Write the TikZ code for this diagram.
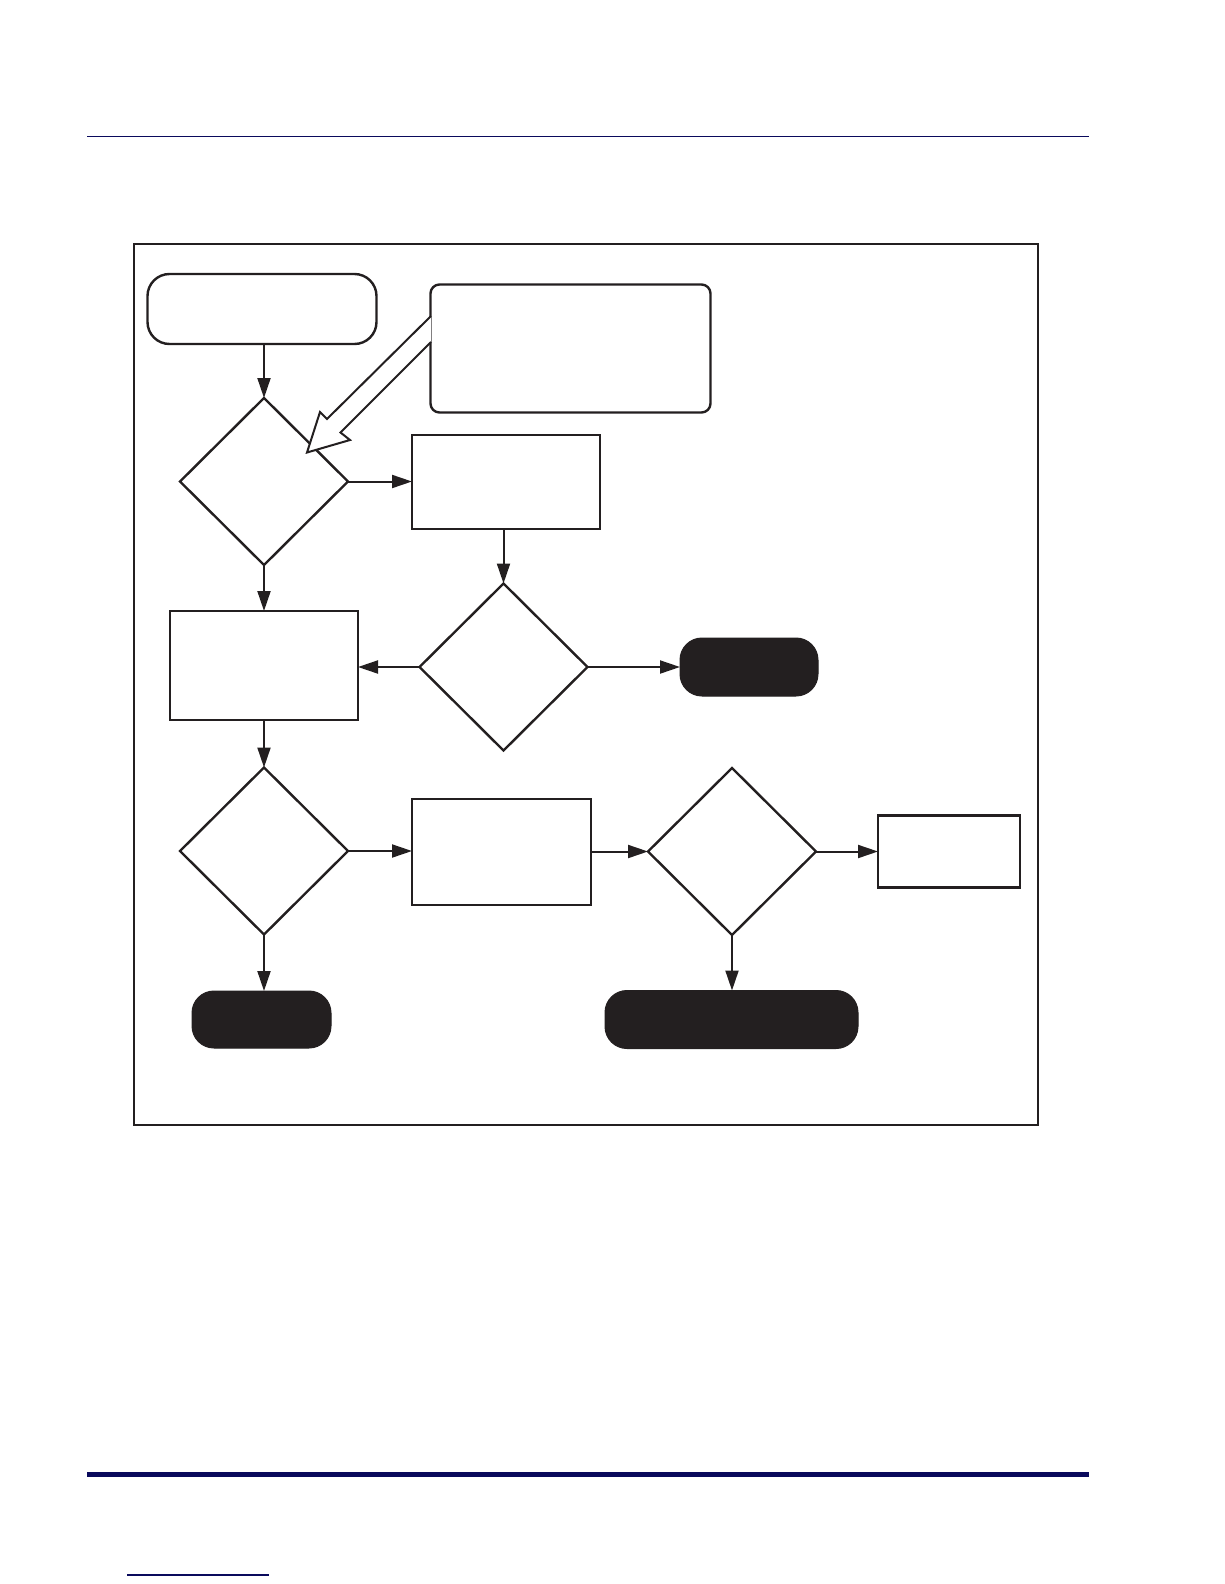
\documentclass[tikz,border=0pt]{standalone}
\usetikzlibrary{shapes.geometric,arrows.meta}
\definecolor{navy}{RGB}{10,10,92}
\definecolor{ink}{RGB}{35,31,32}
\tikzset{
  every node/.style={inner sep=0pt,outer sep=0pt},
  ln/.style={draw=ink,line width=2.4pt},
  procbox/.style={ln,rectangle,fill=white},
  decision/.style={ln,diamond,fill=white,minimum width=168pt,minimum height=167pt},
  startbox/.style={ln,rectangle,rounded corners=22pt,fill=white},
  termbox/.style={draw=ink,fill=ink,line width=1pt,rectangle,rounded corners=22pt},
  flow/.style={draw=ink,line width=2pt,-{Triangle[length=20pt,width=13pt]}},
}
\begin{document}
\begin{tikzpicture}[x=1pt,y=-1pt]
\useasboundingbox (0,0) rectangle (1224,1584);
% page rules
\draw[navy,line width=1.5pt] (87,136.5) -- (1089,136.5);
\draw[navy,line width=5pt] (87,1474.5) -- (1089,1474.5);
\draw[navy,line width=1.5pt] (127,1575) -- (269,1575);
% frame
\node[ln,rectangle,minimum width=904pt,minimum height=881pt] (frame) at (586,684.5) {};
% nodes
\node[startbox,minimum width=229pt,minimum height=70pt] (start) at (262,309) {};
\node[ln,rectangle,rounded corners=9pt,minimum width=280pt,minimum height=128pt] (note) at (570.5,348.5) {};
\node[decision] (d1) at (264,481.5) {};
\node[procbox,minimum width=188pt,minimum height=94pt] (pa) at (506,482) {};
\node[decision] (d2) at (503.5,667) {};
\node[procbox,minimum width=188pt,minimum height=109pt] (pb) at (264,665.5) {};
\node[termbox,minimum width=138pt,minimum height=58pt] (t1) at (749,667) {};
\node[decision] (d3) at (264,851) {};
\node[procbox,minimum width=179pt,minimum height=106pt] (pc) at (501.5,852) {};
\node[decision] (d4) at (732,851.5) {};
\node[procbox,minimum width=142pt,minimum height=72pt] (pd) at (949,851.5) {};
\node[termbox,minimum width=139pt,minimum height=57pt] (t2) at (261.5,1019.5) {};
\node[termbox,minimum width=253pt,minimum height=58pt] (t3) at (731.5,1019.5) {};
% callout pointer
\draw[ink,line width=2pt,fill=white,line join=miter]
  (431,316) -- (327,419) -- (320,412) -- (307,452.5) -- (350,440) -- (340.5,432.5) -- (431,342);
% connectors
\draw[flow] (start.south -| d1.north) -- (d1.north);
\draw[flow] (d1.east) -- (pa.west |- d1.east);
\draw[flow] (pa.south -| d2.north) -- (d2.north);
\draw[flow] (d1.south) -- (pb.north);
\draw[flow] (d2.west) -- (pb.east |- d2.west);
\draw[flow] (d2.east) -- (t1.west);
\draw[flow] (pb.south) -- (d3.north);
\draw[flow] (d3.east) -- (pc.west |- d3.east);
\draw[flow] (pc.east |- d4.west) -- (d4.west);
\draw[flow] (d4.east) -- (pd.west);
\draw[flow] (d3.south) -- (t2.north -| d3.south);
\draw[flow] (d4.south) -- (t3.north -| d4.south);
\end{tikzpicture}
\end{document}
